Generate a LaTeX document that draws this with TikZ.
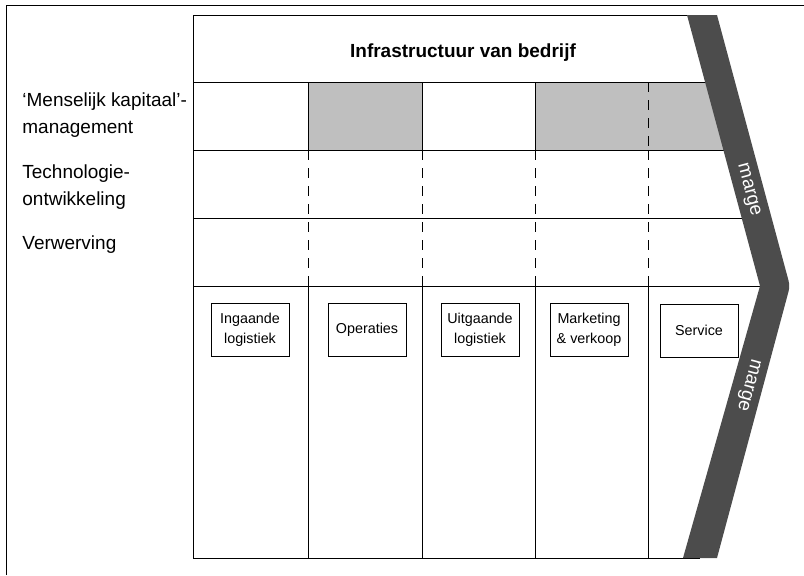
\documentclass[tikz,border=0pt]{standalone}
\usepackage{fontspec}
\setmainfont{Liberation Sans}
\usetikzlibrary{positioning}

\begin{document}
\begin{tikzpicture}[x=0.025cm,y=-0.025cm,line width=0.6pt,
	lbl/.style={anchor=west,align=left,inner sep=0pt,font=\fontsize{13.5}{19.5}\selectfont},
	act/.style={draw,align=center,minimum width=1.95cm,minimum height=1.325cm,inner sep=1pt,font=\fontsize{10.2}{14.2}\selectfont},
	dsh/.style={dash pattern=on 2.5mm off 2mm},
	marge/.style={text=white,inner sep=0pt,font=\fontsize{13.5}{16}\selectfont}]
	\useasboundingbox (0,0) rectangle (804,575);
	\draw (6,575) -- (6,5) -- (804,5);
	% ondersteunende activiteiten
	\fill[black!25] (308,82) rectangle (422,150) (535,82) rectangle (730,150);
	\draw (700,15) -- (193,15) -- (193,558) -- (700,558);
	\draw (193,82) -- (720,82) (193,150) -- (738,150) (193,218) -- (756,218) (193,286) -- (775,286);
	\foreach \x in {308,422,535}
		\draw (\x,82) -- (\x,150) (\x,286) -- (\x,558);
	\draw (648,286) -- (648,558);
	\foreach \x in {308,422,535,648}
		\draw[dsh] (\x,150) -- (\x,286);
	\draw[dsh] (648,82) -- (648,150);
	\node[font=\bfseries\fontsize{13.5}{16}\selectfont,anchor=base] (infra) at (463,57) {Infrastructuur van bedrijf};
	\node[lbl] (hrm) at (22,115) {`Menselijk kapitaal'-\\management};
	\node[lbl] (tech) at (22,187) {Technologie-\\ontwikkeling};
	\node[lbl] (verw) at (22,245) {Verwerving};
	% primaire activiteiten
	\node[act] (in) at (250,329.5) {Ingaande\\logistiek};
	\node[act] (op) at (367,329.5) {Operaties};
	\node[act] (uit) at (480,329.5) {Uitgaande\\logistiek};
	\node[act] (mv) at (589,329.5) {Marketing\\\& verkoop};
	\node[act] (srv) at (699,330.5) {Service};
	% marge
	\fill[black!70] (687,15) -- (717,15) -- (782.7,259) [rounded corners=4pt] -- (790,286) -- (782.7,313.2) [sharp corners] -- (717,558) -- (683,558) -- (760,286) -- cycle;
	\node[marge,rotate=-75] (m1) at (748,190) {marge};
	\node[marge,rotate=-105] (m2) at (748,385) {marge};
\end{tikzpicture}
\end{document}
